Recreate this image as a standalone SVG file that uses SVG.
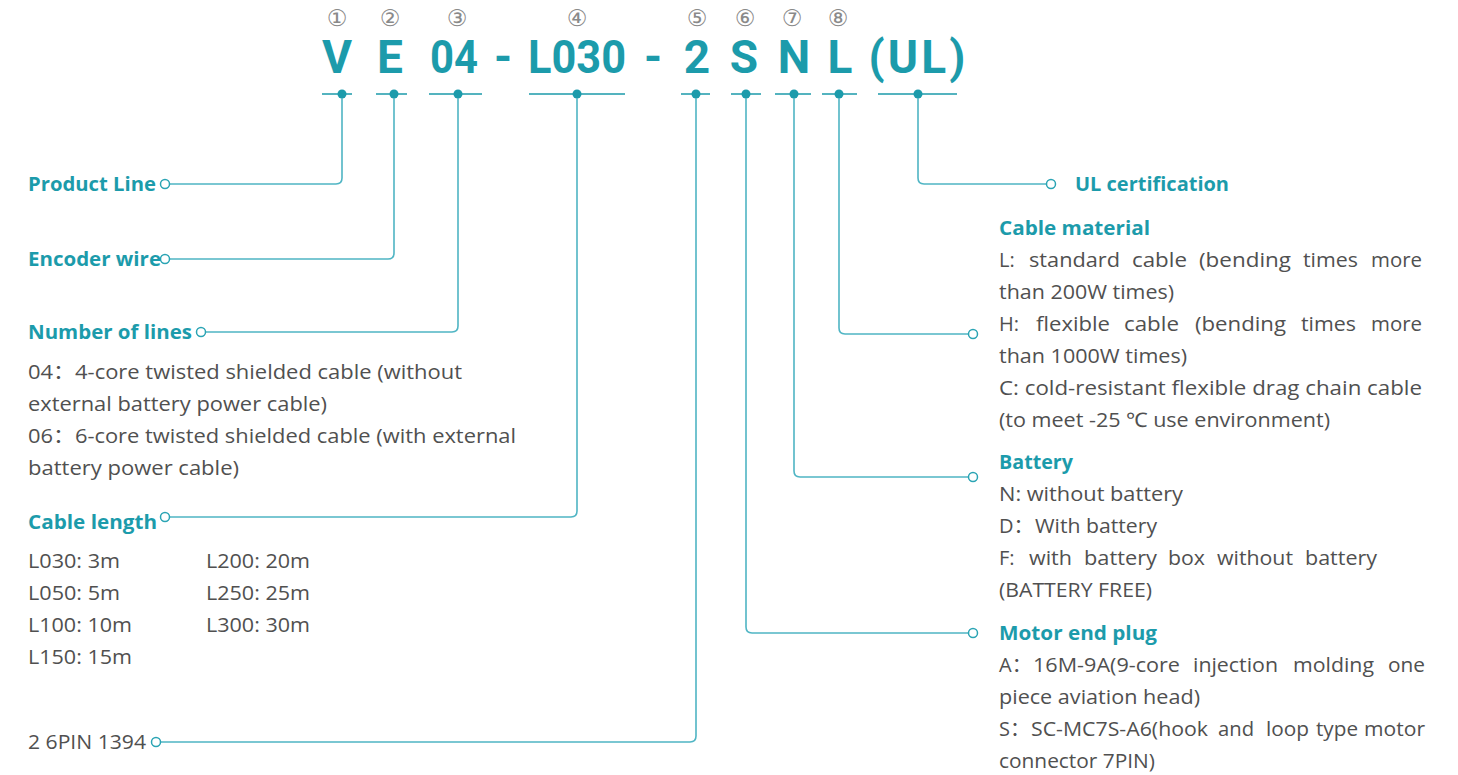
<svg xmlns="http://www.w3.org/2000/svg" width="1458" height="775" viewBox="0 0 1458 775">
<style>
.num{font-family:"DejaVu Sans","Noto Sans CJK SC",sans-serif;font-size:23px;fill:#8a8a8a;text-anchor:middle}
.code{font-family:Roboto,"Open Sans",sans-serif;font-weight:bold;font-size:46px;fill:#1c9bab;text-anchor:middle}
.lbl{font-family:"Open Sans","Noto Sans",sans-serif;font-weight:bold;font-size:20px;fill:#1c9bab}
.txt{font-family:"Open Sans","Noto Sans","Noto Sans CJK SC",sans-serif;font-size:20px;fill:#505050}
.tick{stroke:#1c9bab;stroke-width:1.5;fill:none}
.dot{fill:#1c9bab}
.con{stroke:#4fb5c4;stroke-width:1.6;fill:none}
.end{stroke:#2aa4b4;stroke-width:1.5;fill:#fff}
</style>

<g id="code">
<text class="num" x="337" y="26">①</text>
<text class="num" x="390" y="26">②</text>
<text class="num" x="457" y="26">③</text>
<text class="num" x="577" y="26">④</text>
<text class="num" x="697" y="26">⑤</text>
<text class="num" x="745" y="26">⑥</text>
<text class="num" x="792" y="26">⑦</text>
<text class="num" x="838" y="26">⑧</text>
<text class="code" x="337" y="73">V</text>
<text class="code" x="390" y="73">E</text>
<text class="code" x="454" y="73" textLength="48" lengthAdjust="spacingAndGlyphs">04</text>
<text class="code" x="503" y="73">-</text>
<text class="code" x="577" y="73" textLength="98" lengthAdjust="spacingAndGlyphs">L030</text>
<text class="code" x="653" y="73">-</text>
<text class="code" x="697" y="73">2</text>
<text class="code" x="744" y="73">S</text>
<text class="code" x="794" y="73">N</text>
<text class="code" x="840" y="73">L</text>
<text class="code" x="917" y="73" textLength="97">(UL)</text>
<path class="tick" d="M322,94H352M376,94H407M429,94H482M529,94H625M681,94H710M731,94H761M775,94H811M822,94H857M878,94H957"/>
<circle class="dot" cx="342" cy="94" r="4.5"/>
<circle class="dot" cx="394" cy="94" r="4.5"/>
<circle class="dot" cx="458" cy="94" r="4.5"/>
<circle class="dot" cx="577" cy="94" r="4.5"/>
<circle class="dot" cx="696" cy="94" r="4.5"/>
<circle class="dot" cx="746" cy="94" r="4.5"/>
<circle class="dot" cx="794" cy="94" r="4.5"/>
<circle class="dot" cx="839" cy="94" r="4.5"/>
<circle class="dot" cx="918" cy="94" r="4.5"/>
</g>

<g id="connectors">
<path class="con" d="M342,98V178Q342,184 336,184H170"/>
<path class="con" d="M394,98V253Q394,259 388,259H170"/>
<path class="con" d="M458,98V326Q458,332 452,332H206"/>
<path class="con" d="M577,98V511Q577,517 571,517H170"/>
<path class="con" d="M696,98V736Q696,742 690,742H161"/>
<path class="con" d="M746,98V627Q746,633 752,633H968"/>
<path class="con" d="M794,98V471Q794,477 800,477H968"/>
<path class="con" d="M839,98V328Q839,334 845,334H968"/>
<path class="con" d="M918,98V178Q918,184 924,184H1046"/>
<circle class="end" cx="165" cy="184" r="4.5"/>
<circle class="end" cx="165" cy="259" r="4.5"/>
<circle class="end" cx="201" cy="332" r="4.5"/>
<circle class="end" cx="165" cy="517" r="4.5"/>
<circle class="end" cx="156" cy="742" r="4.5"/>
<circle class="end" cx="973" cy="633" r="4.5"/>
<circle class="end" cx="973" cy="477" r="4.5"/>
<circle class="end" cx="973" cy="334" r="4.5"/>
<circle class="end" cx="1051" cy="184" r="4.5"/>
</g>

<g id="product-line">
<text class="lbl" x="28" y="191" textLength="128" lengthAdjust="spacingAndGlyphs">Product Line</text>
</g>
<g id="encoder-wire">
<text class="lbl" x="28" y="266" textLength="133" lengthAdjust="spacingAndGlyphs">Encoder wire</text>
</g>
<g id="number-of-lines">
<text class="lbl" x="28" y="339" textLength="164" lengthAdjust="spacingAndGlyphs">Number of lines</text>
<text class="txt" x="28" y="379" textLength="434" lengthAdjust="spacingAndGlyphs">04：4-core twisted shielded cable (without</text>
<text class="txt" x="28" y="411" textLength="299" lengthAdjust="spacingAndGlyphs">external battery power cable)</text>
<text class="txt" x="28" y="443" textLength="488" lengthAdjust="spacingAndGlyphs">06：6-core twisted shielded cable (with external</text>
<text class="txt" x="28" y="475" textLength="211" lengthAdjust="spacingAndGlyphs">battery power cable)</text>
</g>
<g id="cable-length">
<text class="lbl" x="28" y="529" textLength="129" lengthAdjust="spacingAndGlyphs">Cable length</text>
<text class="txt" x="28" y="568" textLength="92" lengthAdjust="spacingAndGlyphs">L030: 3m</text>
<text class="txt" x="28" y="600" textLength="92" lengthAdjust="spacingAndGlyphs">L050: 5m</text>
<text class="txt" x="28" y="632" textLength="104" lengthAdjust="spacingAndGlyphs">L100: 10m</text>
<text class="txt" x="28" y="664" textLength="104" lengthAdjust="spacingAndGlyphs">L150: 15m</text>
<text class="txt" x="206" y="568" textLength="104" lengthAdjust="spacingAndGlyphs">L200: 20m</text>
<text class="txt" x="206" y="600" textLength="104" lengthAdjust="spacingAndGlyphs">L250: 25m</text>
<text class="txt" x="206" y="632" textLength="104" lengthAdjust="spacingAndGlyphs">L300: 30m</text>
</g>
<g id="pin">
<text class="txt" x="28" y="749" textLength="118" lengthAdjust="spacingAndGlyphs">2 6PIN 1394</text>
</g>

<g id="ul-certification">
<text class="lbl" x="1075" y="191" textLength="154" lengthAdjust="spacingAndGlyphs">UL certification</text>
</g>
<g id="cable-material">
<text class="lbl" x="999" y="235" textLength="151" lengthAdjust="spacingAndGlyphs">Cable material</text>
<text class="txt" x="999" y="267">L:</text>
<text class="txt" x="1029" y="267" textLength="91" lengthAdjust="spacingAndGlyphs">standard</text>
<text class="txt" x="1132" y="267" textLength="55" lengthAdjust="spacingAndGlyphs">cable</text>
<text class="txt" x="1199" y="267" textLength="92" lengthAdjust="spacingAndGlyphs">(bending</text>
<text class="txt" x="1303" y="267" textLength="55" lengthAdjust="spacingAndGlyphs">times</text>
<text class="txt" x="1371" y="267" textLength="51" lengthAdjust="spacingAndGlyphs">more</text>
<text class="txt" x="999" y="299" textLength="175" lengthAdjust="spacingAndGlyphs">than 200W times)</text>
<text class="txt" x="999" y="331">H:</text>
<text class="txt" x="1036" y="331" textLength="74" lengthAdjust="spacingAndGlyphs">flexible</text>
<text class="txt" x="1124" y="331" textLength="55" lengthAdjust="spacingAndGlyphs">cable</text>
<text class="txt" x="1195" y="331" textLength="91" lengthAdjust="spacingAndGlyphs">(bending</text>
<text class="txt" x="1301" y="331" textLength="55" lengthAdjust="spacingAndGlyphs">times</text>
<text class="txt" x="1371" y="331" textLength="51" lengthAdjust="spacingAndGlyphs">more</text>
<text class="txt" x="999" y="363" textLength="188" lengthAdjust="spacingAndGlyphs">than 1000W times)</text>
<text class="txt" x="999" y="395" textLength="423" lengthAdjust="spacingAndGlyphs">C: cold-resistant flexible drag chain cable</text>
<text class="txt" x="999" y="427" textLength="331" lengthAdjust="spacingAndGlyphs">(to meet -25 ℃ use environment)</text>
</g>
<g id="battery">
<text class="lbl" x="999" y="469" textLength="74" lengthAdjust="spacingAndGlyphs">Battery</text>
<text class="txt" x="999" y="501" textLength="184" lengthAdjust="spacingAndGlyphs">N: without battery</text>
<text class="txt" x="999" y="533">D：</text>
<text class="txt" x="1035" y="533" textLength="122" lengthAdjust="spacingAndGlyphs">With battery</text>
<text class="txt" x="999" y="565">F:</text>
<text class="txt" x="1029" y="565" textLength="43" lengthAdjust="spacingAndGlyphs">with</text>
<text class="txt" x="1084" y="565" textLength="73" lengthAdjust="spacingAndGlyphs">battery</text>
<text class="txt" x="1168" y="565" textLength="37" lengthAdjust="spacingAndGlyphs">box</text>
<text class="txt" x="1217" y="565" textLength="76" lengthAdjust="spacingAndGlyphs">without</text>
<text class="txt" x="1305" y="565" textLength="72" lengthAdjust="spacingAndGlyphs">battery</text>
<text class="txt" x="999" y="597" textLength="153" lengthAdjust="spacingAndGlyphs">(BATTERY FREE)</text>
</g>
<g id="motor-end-plug">
<text class="lbl" x="999" y="640" textLength="158" lengthAdjust="spacingAndGlyphs">Motor end plug</text>
<text class="txt" x="999" y="672">A：</text>
<text class="txt" x="1033" y="672" textLength="147" lengthAdjust="spacingAndGlyphs">16M-9A(9-core</text>
<text class="txt" x="1193" y="672" textLength="85" lengthAdjust="spacingAndGlyphs">injection</text>
<text class="txt" x="1293" y="672" textLength="81" lengthAdjust="spacingAndGlyphs">molding</text>
<text class="txt" x="1388" y="672" textLength="37" lengthAdjust="spacingAndGlyphs">one</text>
<text class="txt" x="999" y="704" textLength="201" lengthAdjust="spacingAndGlyphs">piece aviation head)</text>
<text class="txt" x="999" y="736">S：</text>
<text class="txt" x="1031" y="736" textLength="177" lengthAdjust="spacingAndGlyphs">SC-MC7S-A6(hook</text>
<text class="txt" x="1218" y="736" textLength="36" lengthAdjust="spacingAndGlyphs">and</text>
<text class="txt" x="1266" y="736" textLength="43" lengthAdjust="spacingAndGlyphs">loop</text>
<text class="txt" x="1316" y="736" textLength="42" lengthAdjust="spacingAndGlyphs">type</text>
<text class="txt" x="1364" y="736" textLength="61" lengthAdjust="spacingAndGlyphs">motor</text>
<text class="txt" x="999" y="768" textLength="156" lengthAdjust="spacingAndGlyphs">connector 7PIN)</text>
</g>
</svg>
